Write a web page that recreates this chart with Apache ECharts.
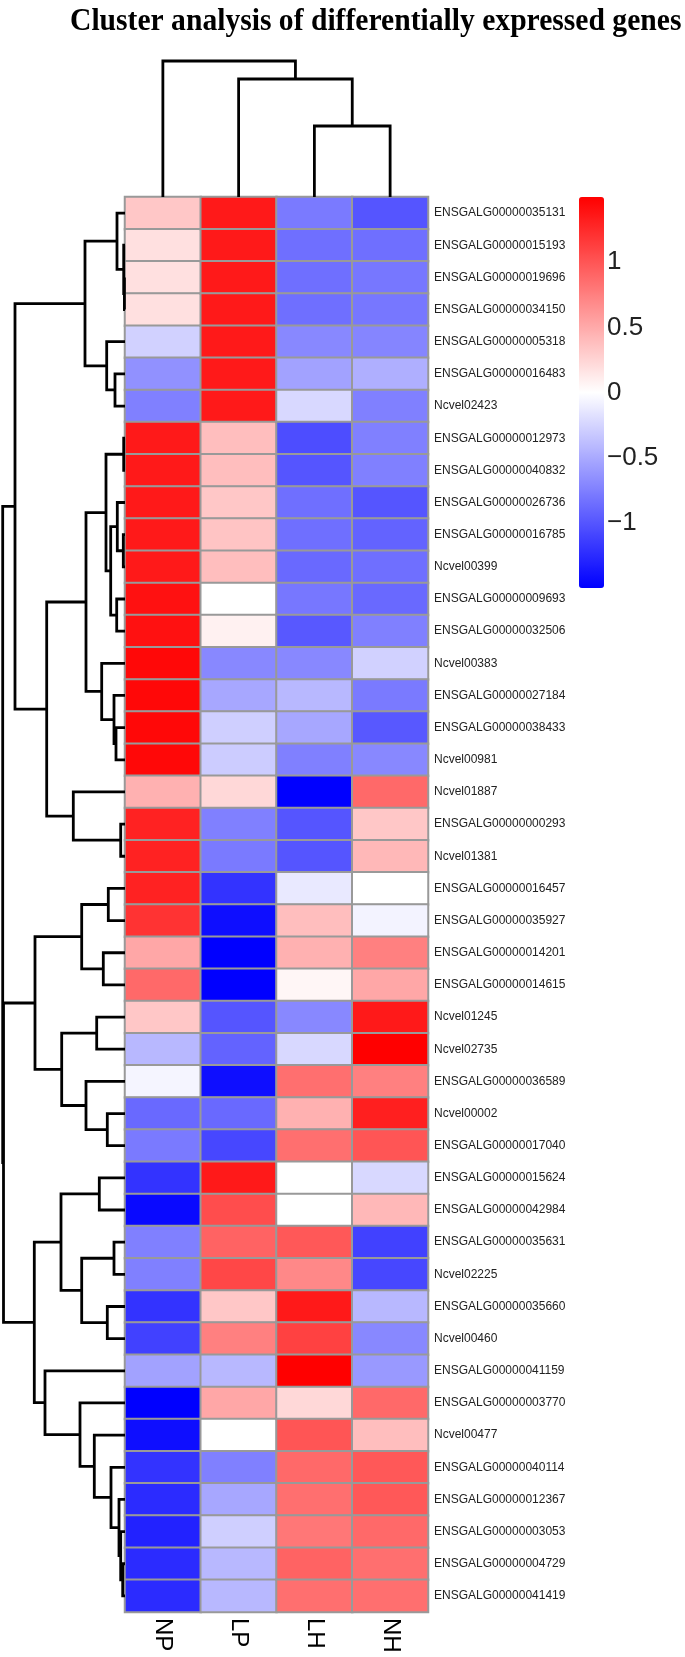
<!DOCTYPE html>
<html>
<head>
<meta charset="utf-8">
<title>Cluster analysis of differentially expressed genes</title>
<script src="https://cdn.jsdelivr.net/npm/echarts@6/dist/echarts.min.js"></script>
<style>
	html, body { margin: 0; padding: 0; background: #fff; }
	#main { width: 685px; height: 1657px; }
</style>
</head>
<body>
<div id="main"></div>
<script>
//-----------------------------------------------------------------------------/
// data
//-----------------------------------------------------------------------------/
var colNames = ['NP', 'LP', 'LH', 'NH'];
var geneNames = [
	'ENSGALG00000035131', 'ENSGALG00000015193', 'ENSGALG00000019696', 'ENSGALG00000034150',
	'ENSGALG00000005318', 'ENSGALG00000016483', 'Ncvel02423', 'ENSGALG00000012973',
	'ENSGALG00000040832', 'ENSGALG00000026736', 'ENSGALG00000016785', 'Ncvel00399',
	'ENSGALG00000009693', 'ENSGALG00000032506', 'Ncvel00383', 'ENSGALG00000027184',
	'ENSGALG00000038433', 'Ncvel00981', 'Ncvel01887', 'ENSGALG00000000293',
	'Ncvel01381', 'ENSGALG00000016457', 'ENSGALG00000035927', 'ENSGALG00000014201',
	'ENSGALG00000014615', 'Ncvel01245', 'Ncvel02735', 'ENSGALG00000036589',
	'Ncvel00002', 'ENSGALG00000017040', 'ENSGALG00000015624', 'ENSGALG00000042984',
	'ENSGALG00000035631', 'Ncvel02225', 'ENSGALG00000035660', 'Ncvel00460',
	'ENSGALG00000041159', 'ENSGALG00000003770', 'Ncvel00477', 'ENSGALG00000040114',
	'ENSGALG00000012367', 'ENSGALG00000003053', 'ENSGALG00000004729', 'ENSGALG00000041419'
];
// z-scores per column, rows in the order above
var valNP = [0.33, 0.18, 0.18, 0.18, -0.27, -0.65, -0.75, 1.35, 1.35, 1.35, 1.35, 1.35, 1.4, 1.4,
	1.45, 1.45, 1.45, 1.45, 0.46, 1.3, 1.3, 1.3, 1.2, 0.52, 0.88, 0.33, -0.42, -0.06, -0.88, -0.78,
	-1.2, -1.45, -0.75, -0.75, -1.2, -1.12, -0.55, -1.5, -1.42, -1.2, -1.25, -1.3, -1.25, -1.25];
var valLP = [1.35, 1.35, 1.35, 1.35, 1.35, 1.35, 1.35, 0.38, 0.38, 0.33, 0.35, 0.38, 0.0, 0.08,
	-0.7, -0.52, -0.28, -0.3, 0.23, -0.75, -0.78, -1.2, -1.42, -1.5, -1.5, -1.0, -0.92, -1.42, -0.88, -1.08,
	1.35, 1.05, 0.92, 1.08, 0.33, 0.75, -0.42, 0.52, 0.0, -0.75, -0.52, -0.28, -0.42, -0.42];
var valLH = [-0.78, -0.85, -0.85, -0.85, -0.7, -0.55, -0.23, -1.05, -1.0, -0.85, -0.85, -0.88, -0.8, -0.98,
	-0.7, -0.42, -0.52, -0.75, -1.5, -1.0, -1.0, -0.13, 0.38, 0.46, 0.05, -0.7, -0.23, 0.85, 0.46, 0.85,
	0.0, 0.0, 0.98, 0.7, 1.35, 1.12, 1.5, 0.23, 1.0, 0.88, 0.85, 0.8, 0.92, 0.85];
var valNH = [-1.0, -0.85, -0.8, -0.8, -0.72, -0.47, -0.75, -0.75, -0.75, -1.0, -0.92, -0.85, -0.88, -0.75,
	-0.27, -0.78, -0.98, -0.7, 0.88, 0.33, 0.42, 0.0, -0.07, 0.75, 0.52, 1.35, 1.5, 0.75, 1.32, 1.0,
	-0.23, 0.42, -1.12, -1.08, -0.42, -0.7, -0.6, 0.88, 0.38, 0.98, 0.98, 0.88, 0.85, 0.85];

// linkage: [left, right, height]; ids >= leaf count are earlier merges
var rowMerges = [
	[2, 3, 0.06], [1, 44, 0.13], [0, 45, 0.8], [5, 6, 1.0], [4, 47, 1.83], [46, 48, 4.0],
	[7, 8, 0.13], [10, 11, 0.17], [9, 51, 0.77], [12, 13, 0.83], [52, 53, 1.43], [50, 54, 1.9],
	[16, 17, 0.9], [15, 56, 1.1], [14, 57, 2.33], [55, 58, 3.9], [19, 20, 0.43], [18, 60, 5.17],
	[59, 61, 7.83], [49, 62, 11.0], [21, 22, 1.67], [23, 24, 2.17], [64, 65, 4.33], [25, 26, 2.83],
	[28, 29, 1.77], [27, 68, 3.9], [67, 69, 6.33], [66, 70, 9.0], [30, 31, 2.57], [32, 33, 1.1],
	[34, 35, 1.77], [73, 74, 4.33], [72, 75, 6.4], [42, 43, 0.23], [41, 77, 0.43], [40, 78, 0.6],
	[39, 79, 1.4], [38, 80, 3.07], [37, 81, 4.5], [36, 82, 8.0], [76, 83, 9.07], [71, 84, 12.15],
	[63, 85, 12.23]
];
var colMerges = [[2, 3, 7.1], [1, 4, 11.8], [0, 5, 13.6]];

//-----------------------------------------------------------------------------/
// build
//-----------------------------------------------------------------------------/
function buildLinks(merges, nLeaf, flip) {
	var pos = [], hgt = [], out = [];
	for (var i = 0; i < nLeaf; i++) {
		pos[i] = i + 0.5;
		hgt[i] = 0;
	}
	merges.forEach(function(m, k) {
		var id = nLeaf + k, a = m[0], b = m[1], h = m[2];
		pos[id] = (pos[a] + pos[b]) / 2;
		hgt[id] = h;
		var pts = [[hgt[a], pos[a]], [h, pos[a]], [h, pos[b]], [hgt[b], pos[b]]];
		if (flip) {
			pts = pts.map(function(p) { return [p[1], p[0]]; });
		}
		out.push({ coords: pts });
	});
	return out;
}

var cols = [valNP, valLP, valLH, valNH];
var heatData = [];
for (var c = 0; c < cols.length; c++) {
	for (var r = 0; r < geneNames.length; r++) {
		heatData.push([c, r, cols[c][r]]);
	}
}

var myChart = echarts.init(document.getElementById('main'));
var hidden = { show: false };
var treeLine = { color: '#000', width: 2.8, opacity: 1, cap: 'butt', join: 'miter' };
var option = {
	animation: false,
	backgroundColor: '#fff',
	graphic: [{
		// title, slightly condensed like the original
		type: 'text', x: 70, y: 6, scaleX: 0.925, silent: true,
		style: {
			text: 'Cluster analysis of differentially expressed genes',
			font: 'bold 32px "Liberation Serif"', fill: '#000',
			textAlign: 'left', textVerticalAlign: 'top'
		}
	}],
	grid: [
		{ left: 125, top: 197, width: 303, height: 1415 },   // heatmap
		{ left: 0, top: 197, width: 125, height: 1415 },     // row tree
		{ left: 125, top: 47, width: 303, height: 150 },     // column tree
		{ left: 579, top: 197, width: 25, height: 391 }      // colour bar labels
	],
	xAxis: [
		{
			gridIndex: 0, type: 'category', data: colNames, position: 'bottom',
			axisLine: hidden, axisTick: hidden, splitLine: hidden,
			axisLabel: { rotate: -90, margin: 6, fontSize: 24, color: '#000', fontFamily: 'Liberation Sans' }
		},
		{ gridIndex: 1, type: 'value', min: 0, max: 12.5, inverse: true, show: false },
		{ gridIndex: 2, type: 'value', min: 0, max: 4, show: false },
		{ gridIndex: 3, type: 'value', min: 0, max: 1, show: false }
	],
	yAxis: [
		{
			gridIndex: 0, type: 'category', data: geneNames, inverse: true, position: 'right',
			axisLine: hidden, axisTick: hidden, splitLine: hidden,
			axisLabel: { margin: 6, fontSize: 12, color: '#222', fontFamily: 'Liberation Sans' }
		},
		{ gridIndex: 1, type: 'value', min: 0, max: 44, inverse: true, show: false },
		{ gridIndex: 2, type: 'value', min: 0, max: 15, show: false },
		{
			gridIndex: 3, type: 'value', min: -1.5, max: 1.5, interval: 0.5, position: 'right',
			axisLine: hidden, axisTick: hidden, splitLine: hidden,
			axisLabel: {
				showMinLabel: false, showMaxLabel: false, margin: 3,
				fontSize: 26, color: '#222', fontFamily: 'Liberation Sans',
				formatter: function(v) { return v === 0 ? '0' : String(v).replace('-', '\u2212'); }
			}
		}
	],
	visualMap: {
		type: 'continuous', min: -1.5, max: 1.5, seriesIndex: 0,
		calculable: false, hoverLink: false, text: null,
		itemWidth: 25, itemHeight: 391, left: 579, top: 197, padding: 0,
		inRange: { color: ['#0000ff', '#ffffff', '#ff0000'] }
	},
	series: [
		{
			type: 'heatmap', xAxisIndex: 0, yAxisIndex: 0, data: heatData,
			itemStyle: { borderColor: '#999', borderWidth: 2 },
			emphasis: { disabled: true }
		},
		{
			type: 'lines', coordinateSystem: 'cartesian2d', xAxisIndex: 1, yAxisIndex: 1,
			polyline: true, silent: true, data: buildLinks(rowMerges, geneNames.length, false),
			lineStyle: treeLine
		},
		{
			type: 'lines', coordinateSystem: 'cartesian2d', xAxisIndex: 2, yAxisIndex: 2,
			polyline: true, silent: true, data: buildLinks(colMerges, colNames.length, true),
			lineStyle: treeLine
		}
	]
};
myChart.setOption(option);
</script>
</body>
</html>
